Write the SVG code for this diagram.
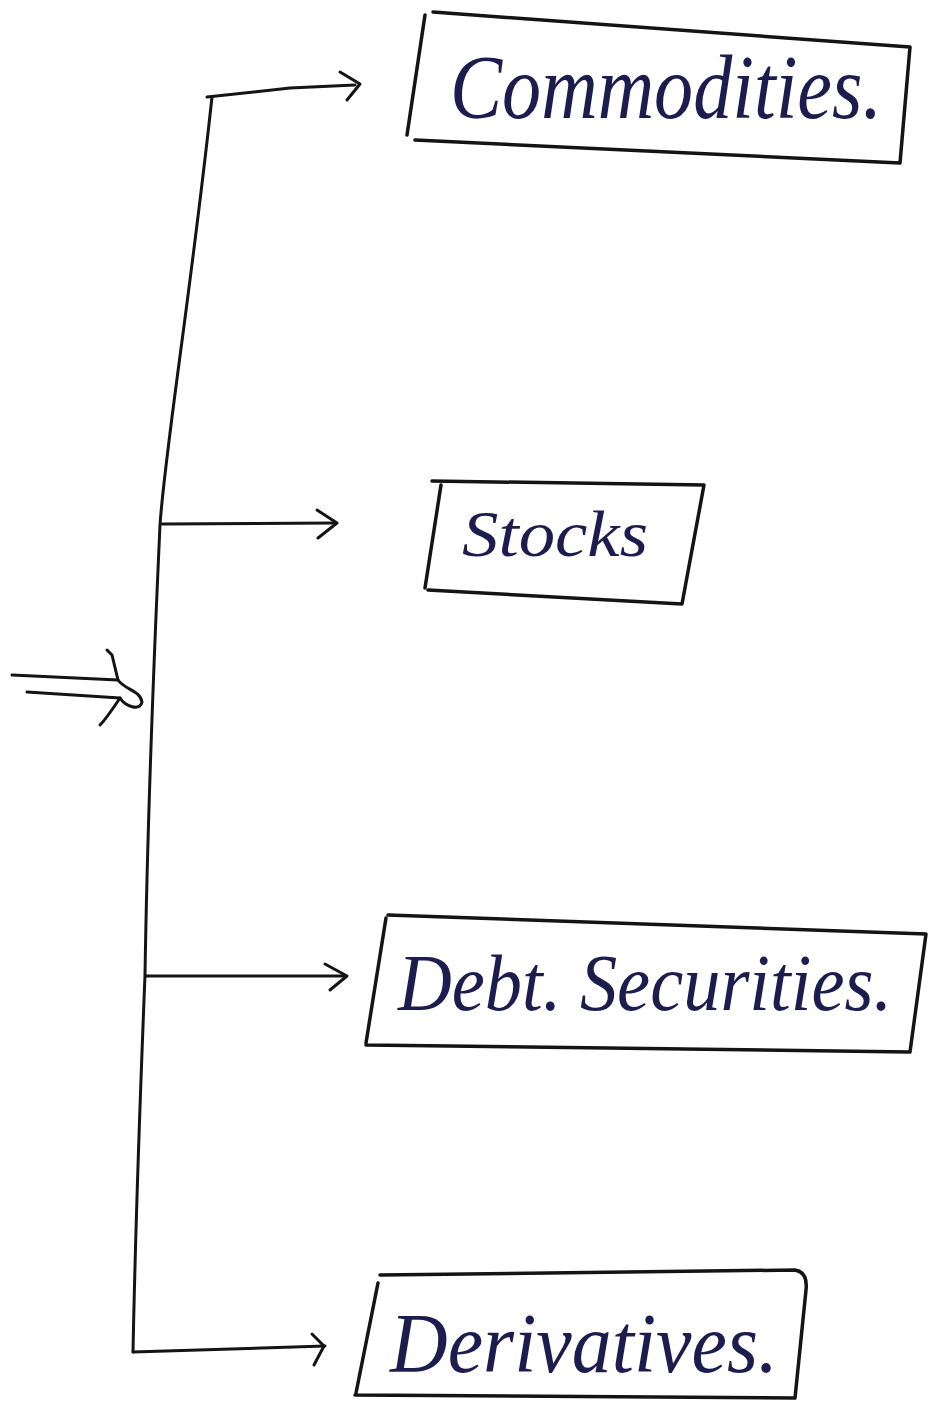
<svg xmlns="http://www.w3.org/2000/svg" width="945" height="1410" viewBox="0 0 945 1410">
<style>
.box{fill:none;stroke:#141414;stroke-width:3.5;stroke-linejoin:round;stroke-linecap:round}
.ln{fill:none;stroke:#141414;stroke-width:3;stroke-linecap:round;stroke-linejoin:round}
.lbl{font-family:"Liberation Serif",serif;font-style:italic;fill:#1c1c4e}
</style>
<rect width="945" height="1410" fill="#ffffff"/>
<g id="connectors">
<path class="ln" d="M212,97 C190,300 165,450 160,525 C152,700 147,850 145,975 C140,1100 135,1250 133,1352"/>
<path class="ln" d="M207,97 L290,88 L355,85"/>
<path class="ln" d="M340,72 L360,84 L347,100"/>
<path class="ln" d="M162,524 L335,523"/>
<path class="ln" d="M317,510 L337,523 L318,538"/>
<path class="ln" d="M146,976 L345,976"/>
<path class="ln" d="M325,964 L347,976 L330,990"/>
<path class="ln" d="M133,1352 L325,1346"/>
<path class="ln" d="M312,1334 L324,1346 L314,1365"/>
<path class="ln" d="M12,675 L118,680"/>
<path class="ln" d="M27,692 L120,698"/>
<path class="ln" d="M107,650 L112,655 L118,680 C125,690 140,690 142,702 C140,712 125,706 120,698 C112,710 105,720 100,725"/>
</g>
<g id="commodities">
<path class="box" d="M433,12 L910,47 L900,163 L415,140 M425,15 L407,135"/>
<text class="lbl" x="450" y="118" font-size="90" textLength="432" lengthAdjust="spacingAndGlyphs">Commodities.</text>
</g>
<g id="stocks">
<path class="box" d="M432,481 L704,485 L682,604 L428,590 M441,485 L425,588"/>
<text class="lbl" x="462" y="556" font-size="66" textLength="186" lengthAdjust="spacingAndGlyphs">Stocks</text>
</g>
<g id="debt-securities">
<path class="box" d="M388,915 L926,934 L910,1052 L366,1045 M386,918 L366,1043"/>
<text class="lbl" x="398" y="1010" font-size="80" textLength="494" lengthAdjust="spacingAndGlyphs">Debt. Securities.</text>
</g>
<g id="derivatives">
<path class="box" d="M380,1275 L795,1270 Q808,1272 806,1290 L795,1398 L355,1395 M378,1283 L356,1393"/>
<text class="lbl" x="390" y="1372" font-size="84" textLength="388" lengthAdjust="spacingAndGlyphs">Derivatives.</text>
</g>
</svg>
